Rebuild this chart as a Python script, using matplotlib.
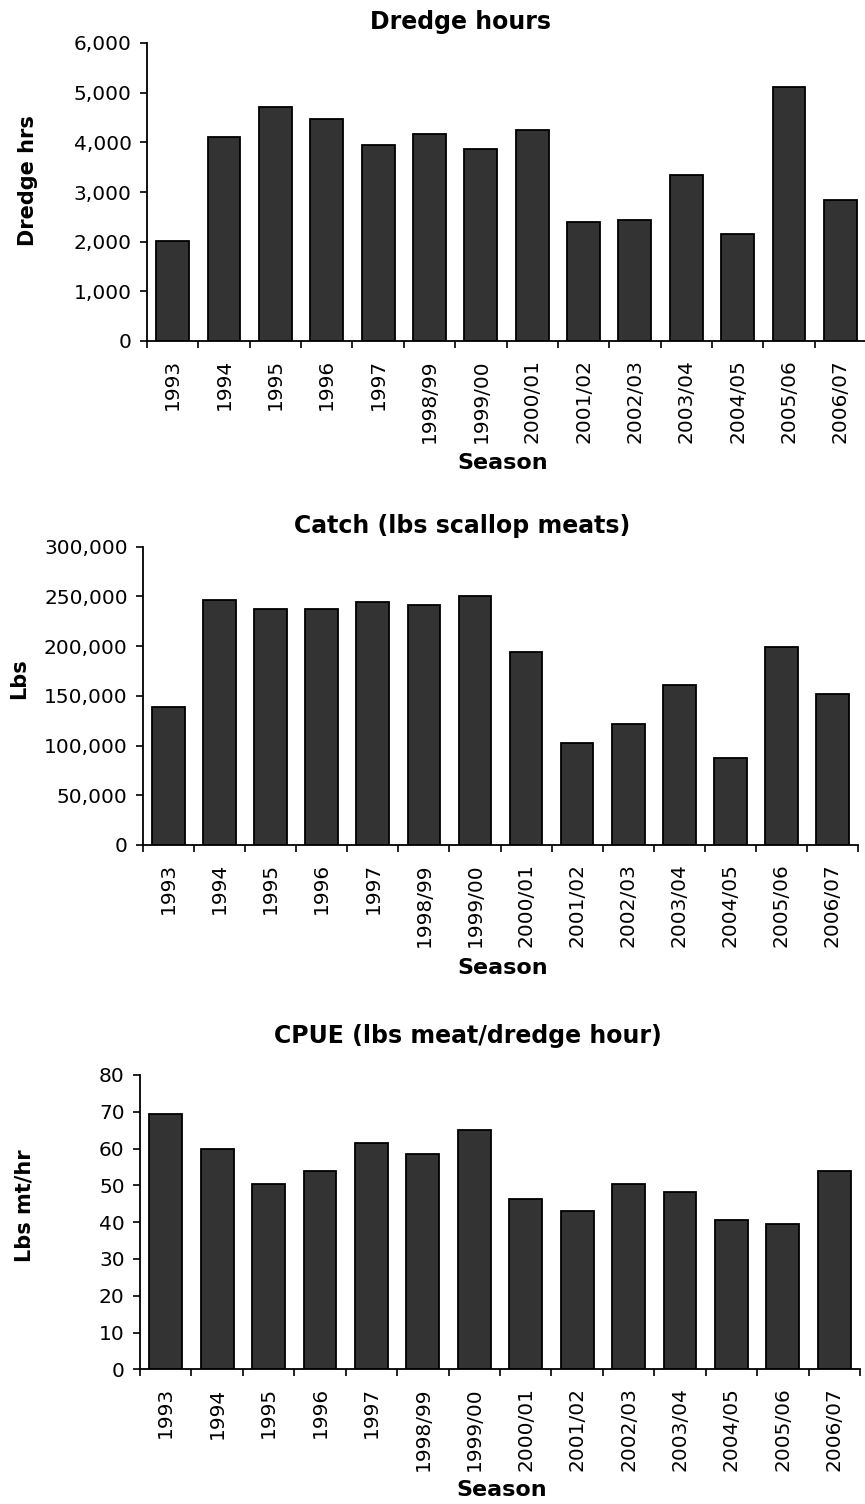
import matplotlib
matplotlib.use("Agg")
import matplotlib.pyplot as plt
from matplotlib.ticker import FuncFormatter, FixedLocator
import numpy as np

plt.rcParams['font.family'] = ['DejaVu Sans']

seasons = ['1993', '1994', '1995', '1996', '1997', '1998/99', '1999/00',
           '2000/01', '2001/02', '2002/03', '2003/04', '2004/05', '2005/06', '2006/07']

dredge_hrs = [2015, 4115, 4715, 4465, 3950, 4160, 3865, 4250, 2400, 2440, 3350, 2145, 5105, 2835]
catch_lbs = [139000, 246000, 237500, 237500, 244000, 241500, 250000, 194500, 102500,
             122000, 160500, 87500, 199000, 152000]
cpue = [69.5, 59.8, 50.5, 53.9, 61.4, 58.6, 65.0, 46.4, 42.9, 50.5, 48.2, 40.7, 39.4, 53.9]

W, H = 865, 1504
fig = plt.figure(figsize=(W / 100, H / 100), dpi=100)


def px_axes(left, right, top, bottom):
    return fig.add_axes([left / W, 1 - bottom / H, (right - left) / W, (bottom - top) / H])


def draw_panel(ax, values, ymax, ystep, fmt):
    x = np.arange(len(seasons))
    ax.bar(x, values, width=0.64, color='#333333', edgecolor='black', linewidth=1.3, zorder=2)
    ax.set_xlim(-0.5, len(seasons) - 0.5)
    ax.set_ylim(0, ymax)
    ax.set_yticks(np.arange(0, ymax + ystep / 2, ystep))
    ax.yaxis.set_major_formatter(FuncFormatter(fmt))
    ax.set_xticks(x)
    ax.set_xticklabels(seasons, rotation=90, fontsize=14.5)
    ax.xaxis.set_minor_locator(FixedLocator(np.arange(-0.5, len(seasons), 1.0)))
    ax.tick_params(axis='x', which='major', length=0, pad=13)
    ax.tick_params(axis='x', which='minor', length=5, width=1.2, direction='out')
    ax.tick_params(axis='y', length=5, width=1.2, direction='out', pad=6, labelsize=14.5)
    for s in ['top', 'right']:
        ax.spines[s].set_visible(False)
    for s in ['left', 'bottom']:
        ax.spines[s].set_linewidth(1.3)
        ax.spines[s].set_clip_on(False)


comma = lambda v, p: '{:,.0f}'.format(v)
plain = lambda v, p: '{:.0f}'.format(v)

ax1 = px_axes(147, 866, 43, 341)
draw_panel(ax1, dredge_hrs, 6000, 1000, comma)
ax2 = px_axes(143, 858, 546.7, 845)
draw_panel(ax2, catch_lbs, 300000, 50000, comma)
ax3 = px_axes(140, 860, 1075, 1369.3)
draw_panel(ax3, cpue, 80, 10, plain)


def ftext(x, y, s, **kw):
    fig.text(x / W, 1 - y / H, s, ha='center', va='center', fontweight='bold', **kw)


ftext(461, 22, 'Dredge hours', fontsize=17)
ftext(462, 526, 'Catch (lbs scallop meats)', fontsize=17)
ftext(468, 1036, 'CPUE (lbs meat/dredge hour)', fontsize=17)

ftext(503, 463, 'Season', fontsize=16)
ftext(503, 968, 'Season', fontsize=16)
ftext(502, 1490, 'Season', fontsize=16)

ftext(28, 181, 'Dredge hrs', fontsize=15, rotation=90)
ftext(19, 679, 'Lbs', fontsize=15, rotation=90)
ftext(25, 1206, 'Lbs mt/hr', fontsize=15, rotation=90)

fig.savefig('out.png', dpi=100)
